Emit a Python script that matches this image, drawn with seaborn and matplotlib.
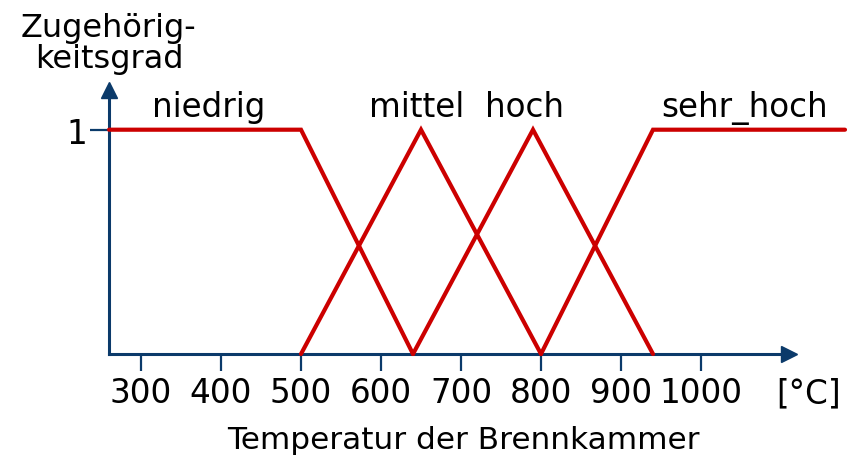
import pandas as pd
import numpy as np
import matplotlib
matplotlib.use("Agg")
import matplotlib.pyplot as plt
import seaborn as sns

# membership functions (temperature in degC, membership degree)
niedrig_t = [260, 500, 640]
niedrig_mu = [1, 1, 0]
mittel_t = [500, 650, 800]
mittel_mu = [0, 1, 0]
hoch_t = [640, 790, 940]
hoch_mu = [0, 1, 0]
sehr_hoch_t = [800, 940, 1180]
sehr_hoch_mu = [0, 1, 1]

terms = ["niedrig", "mittel", "hoch", "sehr_hoch"]
label_x = [385, 645, 780, 1055]
xticks = [300, 400, 500, 600, 700, 800, 900, 1000]

RED = "#cc0000"
NAVY = "#0b3a6a"

frames = []
for name, t, mu in [("niedrig", niedrig_t, niedrig_mu), ("mittel", mittel_t, mittel_mu),
                    ("hoch", hoch_t, hoch_mu), ("sehr_hoch", sehr_hoch_t, sehr_hoch_mu)]:
    frames.append(pd.DataFrame({"temp": t, "mu": mu, "term": name}))
df = pd.concat(frames, ignore_index=True)

sns.set_style("white", {"text.color": "black", "axes.labelcolor": "black",
                        "xtick.color": "black", "ytick.color": "black"})
plt.rcParams["font.family"] = ["DejaVu Sans"]

W, H = 854, 456
fig = plt.figure(figsize=(W / 100, H / 100), dpi=100)
# axes: x from px 109 to 845, y=0 at px 355, y=1 at px 130.7
ymax = 1.25
px_per_unit = 224.3
ax = fig.add_axes([109 / W, (H - 355) / H, 736 / W, ymax * px_per_unit / H])

sns.lineplot(data=df, x="temp", y="mu", hue="term", palette={k: RED for k in terms},
             linewidth=3, legend=False, ax=ax, clip_on=False, solid_joinstyle="miter")

ax.set_xlim(260, 1180)
ax.set_ylim(0, ymax)

for side in ["top", "right"]:
    ax.spines[side].set_visible(False)
for side in ["left", "bottom"]:
    ax.spines[side].set_color(NAVY)
    ax.spines[side].set_linewidth(2.2)
    ax.spines[side].set_zorder(1)
ax.spines["left"].set_bounds(0, 1.16)
ax.spines["bottom"].set_bounds(260, 1105)

# arrow heads
ax.plot([1110], [0], marker=">", markersize=11, color=NAVY, clip_on=False, zorder=1)
ax.plot([260], [1.177], marker="^", markersize=11.5, color=NAVY, clip_on=False, zorder=1)

ax.set_xticks(xticks)
ax.set_xticklabels([str(v) for v in xticks])
ax.set_yticks([1])
ax.set_yticklabels(["1"])
ax.tick_params(axis="x", direction="out", length=12, width=1.6, color=NAVY,
               labelcolor="black", labelsize=23.5, pad=4, bottom=True)
ax.tick_params(axis="y", direction="out", length=13.5, width=1.6, color=NAVY,
               labelcolor="black", labelsize=23.5, pad=2, left=True)

for name, x in zip(terms, label_x):
    ax.text(x, 1.061, name, ha="center", va="baseline", fontsize=23.5, color="black")

ax.annotate("[°C]", xy=(1134, 0), xytext=(0, -16), textcoords="offset points",
            ha="center", va="top", fontsize=23.5, color="black", annotation_clip=False)

ax.set_xlabel("Temperatur der Brennkammer", fontsize=22.4, color="black")
ax.xaxis.set_label_coords((463 - 109) / 736, -0.253)
ax.xaxis.label.set_va("top")

ax.set_ylabel("Zugehörig-\nkeitsgrad", fontsize=23, rotation=0, ha="center",
              va="top", linespacing=0.98, color="black")
ax.yaxis.set_label_coords(0.0, (355 - 13) / (ymax * px_per_unit))

fig.savefig("out.png", dpi=100)
